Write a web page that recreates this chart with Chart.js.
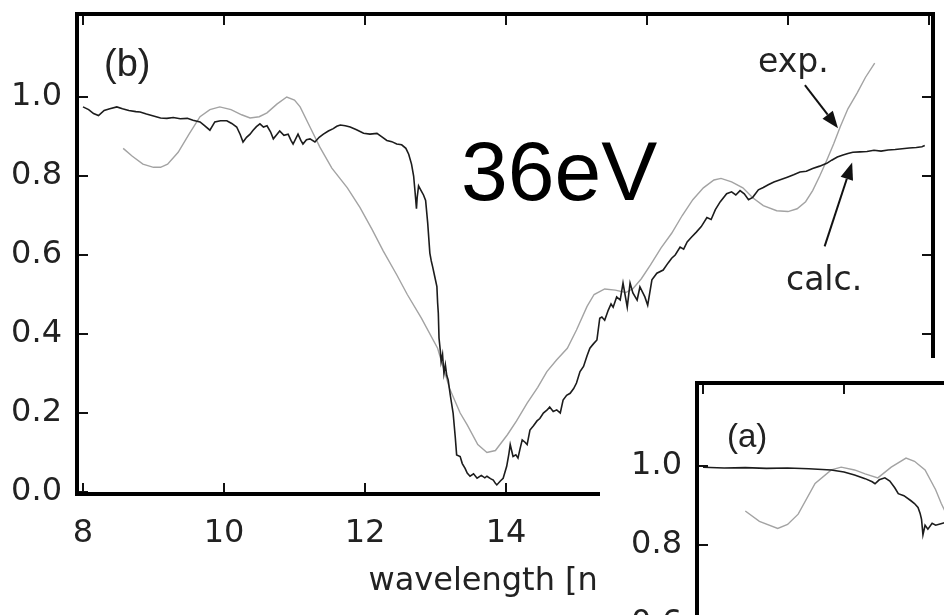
<!DOCTYPE html>
<html>
<head>
<meta charset="utf-8">
<script src="https://cdn.jsdelivr.net/npm/chart.js@4.4.1/dist/chart.umd.min.js"></script>
<style>
  html, body { margin: 0; padding: 0; background: #fff; }
  #wrap { position: relative; width: 944px; height: 615px; overflow: hidden; background: #fff; }
  #main { position: absolute; left: 0; top: 0; }
  #insetBox { position: absolute; left: 600px; top: 358px; width: 344px; height: 257px; overflow: hidden; background: #fff; }
  #inset { position: absolute; left: 20px; top: 11px; }
</style>
</head>
<body>
<div id="wrap">
  <canvas id="main" width="944" height="615"></canvas>
  <div id="insetBox"><canvas id="inset" width="944" height="615"></canvas></div>
</div>
<script>
// ---------- data ----------
const xTicks = [8, 10, 12, 14, 16, 18, 20];
const yTicks = [0, 0.2, 0.4, 0.6, 0.8, 1.0];

// panel (b): calculated (dark, noisy)
const calcX = [8.00,8.08,8.15,8.22,8.30,8.38,8.48,8.56,8.65,8.75,8.81,8.90,9.00,9.10,9.19,9.28,9.38,9.48,9.56,9.66,
  9.72,9.80,9.87,9.95,10.04,10.11,10.18,10.23,10.27,10.32,10.37,10.41,10.46,10.51,10.56,10.61,10.66,10.70,10.75,10.79,
  10.85,10.91,10.95,10.98,11.02,11.05,11.09,11.12,11.17,11.22,11.29,11.35,11.41,11.48,11.55,11.60,11.65,11.72,11.79,11.88,
  11.98,12.07,12.17,12.24,12.31,12.38,12.45,12.52,12.58,12.62,12.66,12.69,12.71,12.73,12.74,12.76,12.79,12.83,12.86,12.89,
  12.92,12.94,12.96,12.99,13.02,13.03,13.04,13.05,13.07,13.08,13.10,13.12,13.14,13.16,13.18,13.21,13.25,13.28,13.30,13.35,
  13.38,13.42,13.45,13.49,13.54,13.59,13.65,13.70,13.73,13.78,13.82,13.85,13.87,13.92,13.96,14.01,14.04,14.06,14.08,14.10,
  14.14,14.17,14.20,14.23,14.27,14.30,14.34,14.39,14.44,14.48,14.53,14.58,14.62,14.67,14.72,14.77,14.81,14.86,14.91,14.96,
  15.00,15.05,15.10,15.15,15.19,15.24,15.29,15.33,15.36,15.40,15.45,15.49,15.52,15.57,15.62,15.66,15.72,15.76,15.80,15.86,
  15.90,15.97,16.01,16.07,16.14,16.23,16.30,16.35,16.40,16.47,16.52,16.57,16.63,16.70,16.77,16.85,16.91,16.97,17.04,17.13,
  17.20,17.26,17.32,17.38,17.44,17.50,17.58,17.65,17.72,17.80,17.88,17.99,18.08,18.17,18.26,18.35,18.45,18.55,18.62,18.70,
  18.78,18.85,18.92,19.02,19.12,19.22,19.32,19.42,19.52,19.62,19.72,19.82,19.90,19.94];
const calcY = [0.975,0.968,0.958,0.953,0.966,0.970,0.975,0.970,0.966,0.963,0.962,0.957,0.952,0.947,0.946,0.948,0.945,0.946,0.941,0.937,
  0.928,0.916,0.937,0.940,0.940,0.933,0.924,0.905,0.886,0.898,0.906,0.915,0.925,0.932,0.924,0.927,0.912,0.894,0.905,0.914,
  0.903,0.906,0.890,0.881,0.895,0.906,0.890,0.881,0.892,0.894,0.886,0.898,0.906,0.914,0.920,0.926,0.929,0.927,0.924,0.917,
  0.908,0.906,0.908,0.899,0.890,0.887,0.881,0.879,0.870,0.855,0.830,0.800,0.760,0.717,0.745,0.775,0.765,0.752,0.738,0.680,
  0.605,0.585,0.570,0.545,0.520,0.480,0.453,0.390,0.355,0.330,0.348,0.300,0.322,0.295,0.284,0.245,0.200,0.140,0.094,0.090,
  0.072,0.060,0.048,0.040,0.046,0.035,0.042,0.036,0.040,0.034,0.030,0.022,0.018,0.028,0.035,0.065,0.095,0.120,0.105,0.090,
  0.094,0.086,0.110,0.132,0.126,0.120,0.157,0.168,0.180,0.186,0.200,0.207,0.215,0.204,0.208,0.200,0.233,0.245,0.250,0.262,
  0.276,0.305,0.318,0.345,0.364,0.375,0.385,0.440,0.443,0.435,0.460,0.476,0.468,0.494,0.486,0.529,0.468,0.529,0.504,0.486,
  0.519,0.494,0.473,0.537,0.554,0.562,0.580,0.592,0.600,0.620,0.615,0.633,0.645,0.658,0.672,0.695,0.690,0.715,0.735,0.755,
  0.760,0.752,0.763,0.755,0.740,0.746,0.765,0.771,0.778,0.785,0.790,0.797,0.803,0.810,0.812,0.819,0.825,0.832,0.840,0.848,
  0.853,0.857,0.860,0.861,0.862,0.865,0.863,0.866,0.867,0.869,0.871,0.872,0.874,0.877];

// panel (b): experimental (grey, smooth)
const expX = [8.57,8.70,8.85,9.00,9.10,9.20,9.35,9.50,9.66,9.80,9.94,10.10,10.25,10.37,10.50,10.61,10.75,10.89,11.00,11.08,
  11.22,11.36,11.53,11.75,11.93,12.10,12.26,12.45,12.60,12.80,13.03,13.20,13.35,13.45,13.60,13.73,13.85,14.02,14.15,14.30,
  14.45,14.58,14.72,14.87,15.00,15.15,15.25,15.40,15.55,15.70,15.80,15.92,16.05,16.20,16.35,16.50,16.65,16.80,16.95,17.05,
  17.20,17.36,17.50,17.65,17.84,18.00,18.13,18.25,18.35,18.45,18.55,18.65,18.74,18.85,18.98,19.10,19.23];
const expY = [0.870,0.850,0.830,0.822,0.822,0.830,0.860,0.905,0.950,0.968,0.975,0.968,0.955,0.947,0.950,0.960,0.982,1.000,0.992,0.975,
  0.924,0.873,0.820,0.770,0.720,0.665,0.610,0.550,0.500,0.440,0.364,0.262,0.200,0.170,0.120,0.100,0.105,0.145,0.180,0.225,
  0.265,0.305,0.335,0.364,0.410,0.470,0.500,0.514,0.511,0.505,0.515,0.540,0.575,0.618,0.655,0.700,0.740,0.770,0.790,0.794,
  0.785,0.770,0.745,0.725,0.712,0.710,0.717,0.735,0.763,0.800,0.840,0.882,0.924,0.970,1.010,1.050,1.086];

// panel (a): calculated and experimental
const insetCalcX = [8.00,8.30,8.60,8.90,9.20,9.50,9.82,10.00,10.15,10.30,10.40,10.44,10.50,10.58,10.65,10.72,10.77,10.85,10.95,11.00,
  11.05,11.08,11.10,11.12,11.15,11.19,11.25,11.30,11.40,11.50];
const insetCalcY = [0.997,0.995,0.996,0.994,0.995,0.993,0.990,0.985,0.977,0.968,0.960,0.955,0.965,0.970,0.962,0.945,0.930,0.925,0.912,0.905,
  0.895,0.880,0.865,0.826,0.850,0.840,0.855,0.850,0.855,0.860];
const insetExpX = [8.60,8.80,9.06,9.20,9.35,9.59,9.82,9.96,10.15,10.30,10.48,10.67,10.88,11.00,11.15,11.30,11.38,11.50];
const insetExpY = [0.886,0.860,0.842,0.852,0.878,0.956,0.990,0.997,0.990,0.980,0.970,0.997,1.020,1.012,0.990,0.940,0.905,0.860];

// ---------- helpers ----------
const pts = (xs, ys) => xs.map((x, i) => ({ x: x, y: ys[i] }));
const TICK_FONT = { family: 'DejaVu Sans', size: 32 };

function drawArrow(ctx, x1, y1, x2, y2) {
  const ang = Math.atan2(y2 - y1, x2 - x1);
  const L = 17, W = 6.5;
  const bx = x2 - L * Math.cos(ang), by = y2 - L * Math.sin(ang);
  ctx.beginPath(); ctx.moveTo(x1, y1); ctx.lineTo(bx, by); ctx.stroke();
  ctx.beginPath();
  ctx.moveTo(x2, y2);
  ctx.lineTo(bx + W * Math.sin(ang), by - W * Math.cos(ang));
  ctx.lineTo(bx - W * Math.sin(ang), by + W * Math.cos(ang));
  ctx.closePath(); ctx.fill();
}

function framePlugin(label, extras) {
  return {
    id: 'frame',
    afterDatasetsDraw(chart) {
      const { ctx, chartArea: a, scales: { x, y } } = chart;
      ctx.save();
      ctx.strokeStyle = '#111';
      ctx.lineWidth = 2;
      const T = 11;
      xTicks.forEach(v => {
        const px = x.getPixelForValue(v);
        ctx.beginPath(); ctx.moveTo(px, a.bottom); ctx.lineTo(px, a.bottom - T); ctx.stroke();
        ctx.beginPath(); ctx.moveTo(px, a.top); ctx.lineTo(px, a.top + T); ctx.stroke();
      });
      yTicks.forEach(v => {
        const py = y.getPixelForValue(v);
        ctx.beginPath(); ctx.moveTo(a.left, py); ctx.lineTo(a.left + T, py); ctx.stroke();
        ctx.beginPath(); ctx.moveTo(a.right, py); ctx.lineTo(a.right - T, py); ctx.stroke();
      });
      ctx.lineWidth = 4;
      ctx.strokeStyle = '#000';
      ctx.strokeRect(a.left, a.top, a.right - a.left, a.bottom - a.top);
      // panel label
      ctx.fillStyle = '#222';
      ctx.textAlign = 'left';
      ctx.textBaseline = 'alphabetic';
      ctx.font = label.font;
      ctx.fillText(label.text, a.left + label.dx, a.top + label.dy);
      if (extras) extras(ctx, a, x, y);
      ctx.restore();
    }
  };
}

function makeConfig(datasets, showTitle) {
  return {
    type: 'line',
    data: { datasets: datasets },
    options: {
      responsive: false,
      animation: false,
      devicePixelRatio: 1,
      layout: { padding: { left: 0, top: 14, right: 11, bottom: 0 } },
      plugins: { legend: { display: false }, tooltip: { enabled: false } },
      elements: { point: { radius: 0 }, line: { tension: 0 } },
      scales: {
        x: {
          type: 'linear', min: 7.915, max: 20.057,
          afterBuildTicks: s => { s.ticks = xTicks.map(v => ({ value: v })); },
          afterFit: s => { s.height = 121; s.paddingLeft = 0; s.paddingRight = 0; },
          grid: { display: false, drawTicks: false },
          border: { display: false },
          ticks: { font: TICK_FONT, color: '#222', padding: 20, maxRotation: 0, autoSkip: false,
                   callback: v => String(v) },
          title: { display: showTitle, text: 'wavelength [nm]', font: { family: 'DejaVu Sans', size: 32 },
                   color: '#222', padding: { top: 0, bottom: 14 } }
        },
        y: {
          type: 'linear', min: -0.005, max: 1.2101,
          afterBuildTicks: s => { s.ticks = yTicks.map(v => ({ value: v })); },
          afterFit: s => { s.width = 77; s.paddingTop = 0; s.paddingBottom = 0; },
          grid: { display: false, drawTicks: false },
          border: { display: false },
          ticks: { font: TICK_FONT, color: '#222', padding: 15, autoSkip: false,
                   callback: v => Number(v).toFixed(1) }
        }
      }
    }
  };
}

const calcStyle = { borderColor: '#1c1c1c', borderWidth: 1.6, fill: false };
const expStyle = { borderColor: '#a3a3a3', borderWidth: 1.4, fill: false };

// ---------- main panel (b) ----------
const mainCfg = makeConfig([
  Object.assign({ label: 'calc.', data: pts(calcX, calcY) }, calcStyle),
  Object.assign({ label: 'exp.', data: pts(expX, expY) }, expStyle)
], true);
mainCfg.plugins = [framePlugin(
  { text: '(b)', font: '38px "Liberation Sans"', dx: 27, dy: 62 },
  (ctx, a, x, y) => {
    ctx.fillStyle = '#000';
    ctx.font = '84px "Liberation Sans"';
    ctx.fillText('36eV', 461, 200);
    ctx.fillStyle = '#222';
    ctx.font = '33px "DejaVu Sans"';
    ctx.fillText('exp.', 758, 72);
    ctx.fillText('calc.', 786, 290);
    ctx.strokeStyle = '#111'; ctx.fillStyle = '#111'; ctx.lineWidth = 2;
    drawArrow(ctx, x.getPixelForValue(18.24), y.getPixelForValue(1.030),
                   x.getPixelForValue(18.71), y.getPixelForValue(0.921));
    drawArrow(ctx, x.getPixelForValue(18.52), y.getPixelForValue(0.622),
                   x.getPixelForValue(18.91), y.getPixelForValue(0.834));
  }
)];
new Chart(document.getElementById('main'), mainCfg);

// ---------- inset panel (a) ----------
const insetCfg = makeConfig([
  Object.assign({ label: 'calc.', data: pts(insetCalcX, insetCalcY) }, calcStyle),
  Object.assign({ label: 'exp.', data: pts(insetExpX, insetExpY) }, expStyle)
], false);
insetCfg.plugins = [framePlugin({ text: '(a)', font: '33px "Liberation Sans"', dx: 30, dy: 64 }, null)];
new Chart(document.getElementById('inset'), insetCfg);
</script>
</body>
</html>
